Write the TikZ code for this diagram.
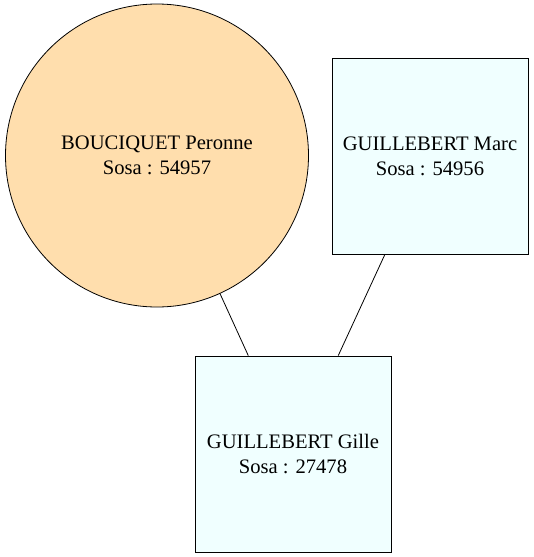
\documentclass[tikz,border=0pt]{standalone}
\usepackage{fontspec}
\setmainfont{Liberation Serif}
\definecolor{navajo}{HTML}{FFDEAD}
\definecolor{azur}{HTML}{F0FFFF}
\tikzset{
  person/.style={draw=black, line width=0.8pt, align=center, inner sep=0pt,
    font=\fontsize{20.6}{25}\selectfont},
  femme/.style={person, circle, fill=navajo, minimum size=303pt},
  homme/.style={person, rectangle, fill=azur, minimum size=196pt}
}
\begin{document}
\begin{tikzpicture}[x=1pt,y=-1pt]
\useasboundingbox (0,0) rectangle (534,557);
\node[femme] (peronne) at (157,155.5) {BOUCIQUET Peronne\\Sosa : 54957};
\node[homme] (marc) at (430,156.5) {GUILLEBERT Marc\\Sosa : 54956};
\node[homme] (gille) at (293,454) {GUILLEBERT Gille\\Sosa : 27478};
\draw[line width=0.8pt] (peronne) -- (gille);
\draw[line width=0.8pt] (marc) -- (gille);
\end{tikzpicture}
\end{document}
